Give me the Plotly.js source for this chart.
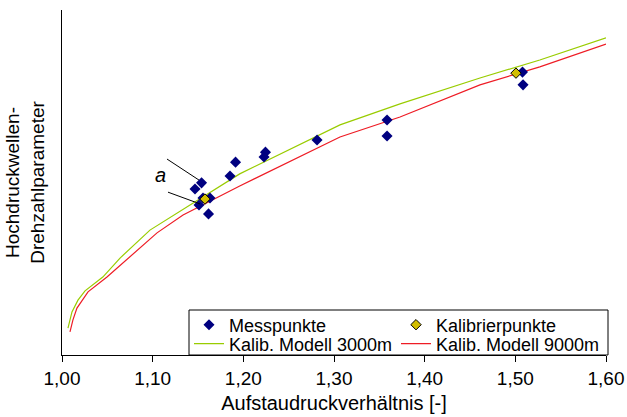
<!DOCTYPE html>
<html>
<head>
<meta charset="utf-8">
<script src="https://cdn.plot.ly/plotly-3.0.1.min.js"></script>
<style>html,body{margin:0;padding:0;background:#fff}#chart{width:627px;height:417px}</style>
</head>
<body>
<div id="chart"></div>
<script>
// Messpunkte (measured points)
var messX = [1.1467, 1.1539, 1.1511, 1.1555, 1.1632, 1.1616, 1.1853, 1.1914, 1.2228, 1.2244, 1.2813, 1.3585, 1.3585, 1.5079, 1.5085];
var messY = [48.1, 49.9, 43.5, 45.5, 45.5, 40.9, 51.9, 55.9, 57.4, 58.8, 62.3, 68.1, 63.5, 82.0, 78.3];
// Kalibrierpunkte (calibration points)
var kalX = [1.1577, 1.5007];
var kalY = [45.2, 81.7];
// Kalib. Modell 3000m
var m3000X = [1.0066, 1.011, 1.0176, 1.0254, 1.045, 1.064, 1.097, 1.1555, 1.196, 1.3066, 1.3728, 1.461, 1.527, 1.60];
var m3000Y = [7.8, 12.5, 15.9, 18.6, 22.6, 28.1, 36.2, 45.8, 52.5, 66.7, 72.8, 80.3, 85.5, 91.9];
// Kalib. Modell 9000m
var m9000X = [1.0088, 1.012, 1.0165, 1.0287, 1.0496, 1.075, 1.1048, 1.1335, 1.196, 1.3066, 1.3728, 1.461, 1.527, 1.60];
var m9000Y = [6.7, 10.1, 13.6, 18.3, 22.6, 28.4, 35.4, 40.6, 49.0, 63.2, 69.0, 78.3, 83.5, 90.1];
// x tick values
var xTicks = [1.0, 1.1, 1.2, 1.3, 1.4, 1.5, 1.6];
// annotation "a" and its pointer lines (data coords)
var annA = {x: 1.1081, y: 52.2};
var ptr1 = [1.1158, 56.8, 1.1511, 50.7];
var ptr2 = [1.1169, 47.2, 1.1522, 43.8];

var font = "Liberation Sans, Arial, sans-serif";

var traces = [
  {x: m3000X, y: m3000Y, name: 'Kalib. Modell 3000m', mode: 'lines', type: 'scatter', legend: 'legend2',
   line: {color: '#99CC00', width: 1.2}},
  {x: m9000X, y: m9000Y, name: 'Kalib. Modell 9000m', mode: 'lines', type: 'scatter', legend: 'legend2',
   line: {color: '#EE1C25', width: 1.2}},
  {x: messX, y: messY, name: 'Messpunkte', mode: 'markers', type: 'scatter', legend: 'legend',
   marker: {symbol: 'diamond', size: 8.5, color: '#000080', line: {width: 0}}},
  {x: kalX, y: kalY, name: 'Kalibrierpunkte', mode: 'markers', type: 'scatter', legend: 'legend',
   marker: {symbol: 'diamond', size: 8, color: '#D2BE00', line: {width: 1, color: '#000000'}}}
];

var legCommon = {
  orientation: 'h', xanchor: 'left', yanchor: 'middle',
  bgcolor: 'rgba(0,0,0,0)', borderwidth: 0,
  font: {family: font, size: 18, color: '#000'},
  entrywidth: 162, entrywidthmode: 'pixels', traceorder: 'normal'
};

function py(p) { return (355 - p) / 345; }
function px(p) { return (p - 62) / 544; }

var layout = {
  width: 627, height: 417,
  margin: {l: 62, r: 21, t: 10, b: 62},
  paper_bgcolor: '#ffffff', plot_bgcolor: '#ffffff',
  separators: ',.',
  font: {family: font, size: 19, color: '#000'},
  showlegend: true,
  legend: Object.assign({}, legCommon, {x: px(189), y: py(325)}),
  legend2: Object.assign({}, legCommon, {x: px(189), y: py(344)}),
  xaxis: {
    range: [1.0, 1.6], tickvals: xTicks, tickformat: '.2f',
    ticks: 'outside', ticklen: 6, tickcolor: '#000', tickwidth: 1,
    showline: true, linecolor: '#000', linewidth: 1, showgrid: false, zeroline: false,
    tickfont: {family: font, size: 19},
    title: {text: 'Aufstaudruckverhältnis [-]', font: {family: font, size: 20}, standoff: 8}
  },
  yaxis: {
    range: [0, 100], showticklabels: false, ticks: '',
    showline: true, linecolor: '#000', linewidth: 1, showgrid: false, zeroline: false,
    title: {text: 'Hochdruckwellen-<br>Drehzahlparameter', font: {family: font, size: 19}, standoff: 11}
  },
  annotations: [
    {x: annA.x, y: annA.y, xref: 'x', yref: 'y', text: '<i>a</i>', showarrow: false,
     font: {family: font, size: 20, color: '#000'}}
  ],
  shapes: [
    {type: 'line', xref: 'x', yref: 'y', x0: ptr1[0], y0: ptr1[1], x1: ptr1[2], y1: ptr1[3], line: {color: '#000', width: 1}},
    {type: 'line', xref: 'x', yref: 'y', x0: ptr2[0], y0: ptr2[1], x1: ptr2[2], y1: ptr2[3], line: {color: '#000', width: 1}},
    // legend frame
    {type: 'rect', xref: 'paper', yref: 'paper', x0: px(189), x1: px(608), y0: 0, y1: py(310),
     line: {color: '#000', width: 1}, fillcolor: '#ffffff', layer: 'above'}
  ]
};

Plotly.newPlot('chart', traces, layout, {displayModeBar: false, staticPlot: true});
</script>
</body>
</html>
